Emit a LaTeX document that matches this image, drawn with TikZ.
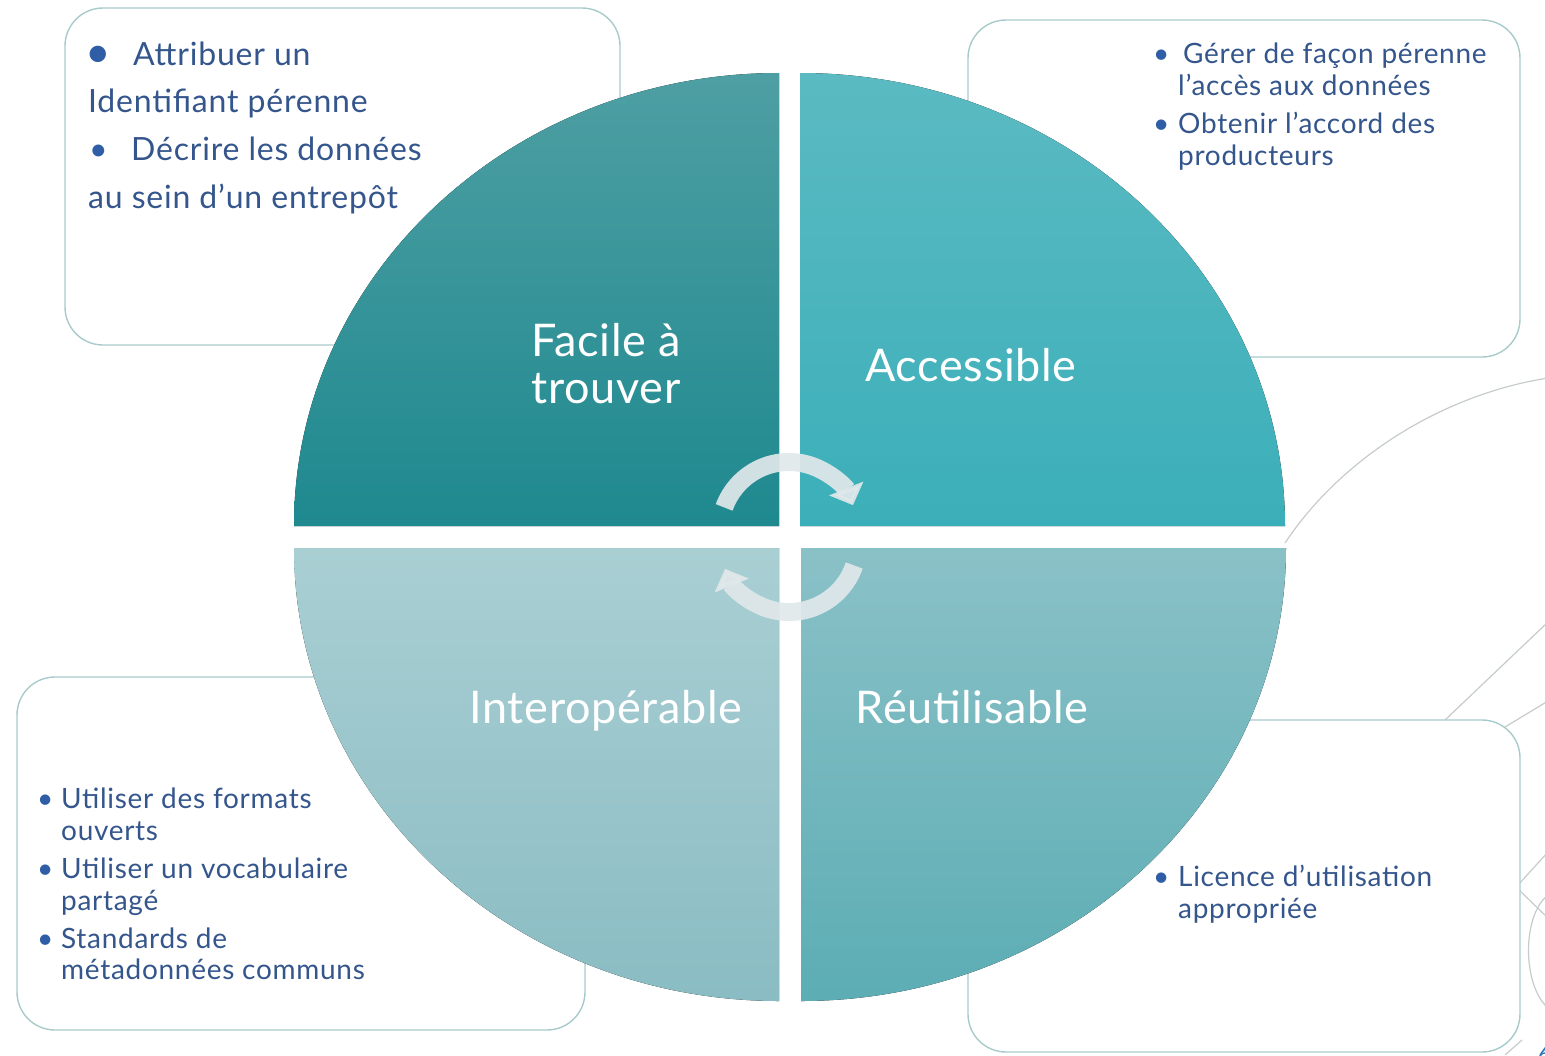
\documentclass[tikz,border=0pt]{standalone}
\usepackage{fontspec}
\setmainfont{Lato}
\newfontfamily\boxfont{Lato}[LetterSpace=2.5]
\newfontfamily\quadfont{Lato}[LetterSpace=1.5]
\usetikzlibrary{arrows.meta}
\definecolor{tlT}{HTML}{4E9FA3}
\definecolor{tlB}{HTML}{1E898F}
\definecolor{trT}{HTML}{5BBAC2}
\definecolor{trB}{HTML}{3BAFB9}
\definecolor{blT}{HTML}{A9CFD3}
\definecolor{blB}{HTML}{8ABCC3}
\definecolor{brT}{HTML}{8AC1C7}
\definecolor{brB}{HTML}{5CADB4}
\definecolor{txtblue}{HTML}{34568C}
\definecolor{bulblue}{HTML}{2F5DA6}
\definecolor{boxline}{HTML}{A9CACB}
\definecolor{decoline}{HTML}{C6CBCB}
\definecolor{cyccol}{HTML}{E0E8EA}
\definecolor{pagenum}{HTML}{2E75B6}
\tikzset{
  infobox/.style={draw=boxline, line width=1.4pt, fill=white, rounded corners=38pt, inner sep=0pt},
  qlabel/.style={text=white, font=\quadfont\fontsize{45}{48}\selectfont, anchor=base, inner sep=0pt},
  tline/.style={text=txtblue, anchor=base west, inner sep=0pt},
  bul/.style={text=bulblue, anchor=base west, inner sep=0pt},
  deco/.style={draw=decoline, line width=1.2pt},
  cyc/.style={draw=cyccol, opacity=0.92, line width=18pt, -{Triangle[width=36pt,length=18pt]}},
}
\begin{document}
\begin{tikzpicture}[x=1pt,y=-1pt]
\useasboundingbox (0,0) rectangle (1545,1055);
% background decoration lines on the right
\draw[deco] (1285,543) .. controls (1340,460) and (1440,395) .. (1548,378);
\draw[deco] (1445,720) -- (1548,622);
\draw[deco] (1505,727) -- (1548,701);
\draw[deco] (1518,885) -- (1548,852);
\draw[deco] (1518,889) -- (1548,918);
\draw[deco] (1548,895) .. controls (1522,915) and (1522,985) .. (1548,1008);
\draw[deco] (1505,1055) -- (1522,1040);
% info boxes
\node[infobox, minimum width=555pt, minimum height=337pt] (b1) at (342.5,176.5) {};
\node[infobox, minimum width=552pt, minimum height=337pt] (b2) at (1244,188.5) {};
\node[infobox, minimum width=568pt, minimum height=353pt] (b3) at (301,853.5) {};
\node[infobox, minimum width=552pt, minimum height=332pt] (b4) at (1244,886) {};
% four quarters
\fill[top color=tlT, bottom color=tlB] (779,526) -- (294,526) arc[start angle=180, end angle=270, x radius=485, y radius=453] -- cycle;
\fill[top color=trT, bottom color=trB] (800,526) -- (800,73) arc[start angle=270, end angle=360, x radius=485, y radius=453] -- cycle;
\fill[top color=brT, bottom color=brB] (801,548) -- (1286,548) arc[start angle=0, end angle=90, x radius=485, y radius=453] -- cycle;
\fill[top color=blT, bottom color=blB] (779,548) -- (779,1001) arc[start angle=90, end angle=180, x radius=485, y radius=453] -- cycle;
% quarter labels
\node[qlabel] (q1a) at (606,356) {Facile à};
\node[qlabel] (q1b) at (606,403) {trouver};
\node[qlabel] (q2) at (971,381) {Accessible};
\node[qlabel] (q3) at (606,723) {Interopérable};
\node[qlabel] (q4) at (972,723) {Réutilisable};
% cycle arrows
\coordinate (ctop) at (789,531);
\coordinate (cbot) at (789,543);
\draw[cyc] (ctop) ++(-160:69) arc[start angle=-160, end angle=-22, radius=69];
\draw[cyc] (cbot) ++(19:69) arc[start angle=19, end angle=158, radius=69];
% top-left box text
\begin{scope}[every node/.append style={font=\boxfont\fontsize{32}{36}\selectfont}]
\node[bul, font=\fontsize{44}{44}\selectfont] (t1b1) at (85,67) {•};
\node[tline] (t1a) at (133,65) {Attribuer un};
\node[tline] (t1b) at (88,112) {Identifiant pérenne};
\node[bul] (t1b2) at (89,160) {•};
\node[tline] (t1c) at (131,160) {Décrire les données};
\node[tline] (t1d) at (88,208) {au sein d’un entrepôt};
\end{scope}
% top-right box text
\begin{scope}[every node/.append style={font=\boxfont\fontsize{28}{32}\selectfont}]
\node[bul] (t2b1) at (1153,63) {•};
\node[tline] (t2a) at (1183,63) {Gérer de façon pérenne};
\node[tline] (t2b) at (1178,95) {l’accès aux données};
\node[bul] (t2b2) at (1153,133) {•};
\node[tline] (t2c) at (1178,133) {Obtenir l’accord des};
\node[tline] (t2d) at (1178,165) {producteurs};
\end{scope}
% bottom-left box text
\begin{scope}[every node/.append style={font=\boxfont\fontsize{28}{32}\selectfont}]
\node[bul] (t3b1) at (37,808) {•};
\node[tline] (t3a) at (61,808) {Utiliser des formats};
\node[tline] (t3b) at (61,840) {ouverts};
\node[bul] (t3b2) at (37,878) {•};
\node[tline] (t3c) at (61,878) {Utiliser un vocabulaire};
\node[tline] (t3d) at (61,910) {partagé};
\node[bul] (t3b3) at (37,948) {•};
\node[tline] (t3e) at (61,948) {Standards de};
\node[tline] (t3f) at (61,979) {métadonnées communs};
\end{scope}
% bottom-right box text
\begin{scope}[every node/.append style={font=\boxfont\fontsize{28}{32}\selectfont}]
\node[bul] (t4b1) at (1153,886) {•};
\node[tline] (t4a) at (1178,886) {Licence d’utilisation};
\node[tline] (t4b) at (1178,918) {appropriée};
\end{scope}
% page number, cut by the edge as in the reference
\node[anchor=base west, inner sep=0pt, text=pagenum, font=\fontsize{22}{22}\selectfont] (pn) at (1538,1062) {6};
\end{tikzpicture}
\end{document}
